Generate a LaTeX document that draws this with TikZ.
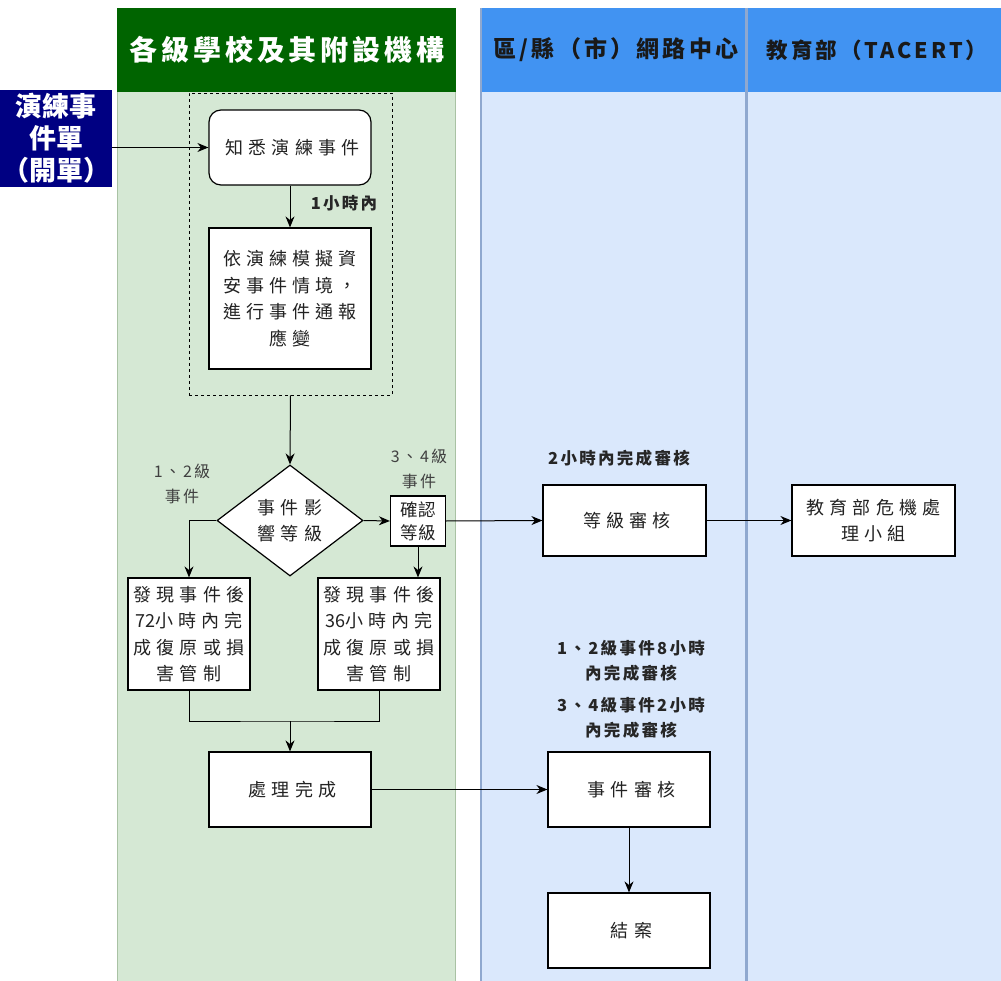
\documentclass[tikz,border=0pt]{standalone}
\usepackage{fontspec}
\usetikzlibrary{shapes.geometric,arrows.meta}
\setmainfont{Liberation Serif}
\newfontfamily\cjk{Noto Sans CJK TC}
\newfontfamily\cjksp[LetterSpace=28]{Noto Sans CJK TC}
\newfontfamily\cjklb[LetterSpace=14]{Noto Sans CJK TC}
\newfontfamily\cjkhd[LetterSpace=14]{Noto Sans CJK TC}
\definecolor{greenhead}{RGB}{0,100,0}
\definecolor{greenbody}{HTML}{D5E8D4}
\definecolor{greenline}{HTML}{A9C2A4}
\definecolor{bluehead}{HTML}{4193F2}
\definecolor{bluebody}{HTML}{DAE8FC}
\definecolor{bluesep}{HTML}{8FA8CF}
\definecolor{navy}{RGB}{0,0,130}
\definecolor{txt}{HTML}{222222}
\tikzset{
  box/.style={draw=black, line width=1.2pt, fill=white, align=center, inner sep=0pt,
    font=\cjksp\fontsize{18}{26.5}\selectfont, text=txt},
  arr/.style={-{Stealth[length=11pt,width=9pt]}, line width=1pt},
  ln/.style={line width=1pt},
  lbl/.style={align=center, font=\cjklb\bfseries\fontsize{16.5}{27}\selectfont, text=black!85},
  glbl/.style={align=center, font=\cjklb\fontsize{16}{25}\selectfont, text=black!75},
  headtxt/.style={font=\cjkhd\bfseries\fontsize{21.5}{26}\selectfont, text=black!90}
}
\begin{document}
\begin{tikzpicture}[x=1pt,y=-1pt]
\useasboundingbox (0,0) rectangle (1001,981);
% lanes
\fill[greenbody] (117,92) rectangle (456,981);
\draw[greenline, line width=1pt] (117.5,92) -- (117.5,981) (455.5,92) -- (455.5,981);
\fill[greenhead] (117,8) rectangle (456,92);
\fill[bluebody] (480,92) rectangle (1001,981);
\fill[bluehead] (480,8) rectangle (1001,92);
\draw[bluesep, line width=1.5pt] (481,8) -- (481,981);
\draw[bluesep, line width=3pt] (746,8) -- (746,981);
\node[font=\cjkhd\bfseries\fontsize{28}{30}\selectfont, text=white] (h1) at (287,50) {各級學校及其附設機構};
\node[headtxt, font=\cjkhd\bfseries\fontsize{23}{26}\selectfont] (h2) at (616,50) {區/縣（市）網路中心};
\node[headtxt] (h3) at (877,50) {教育部（TACERT）};

% ticket
\node[fill=navy, minimum width=112pt, minimum height=97pt, inner sep=0pt, align=center,
  text=white, font=\cjk\bfseries\fontsize{27}{32}\selectfont] (ticket) at (56,138.5) {演練事\\件單\\（開單）};

% group dashed box
\node[draw=black, dashed, line width=0.9pt, minimum width=203pt, minimum height=302pt, inner sep=0pt] (grp) at (290.5,244) {};

\node[box, rounded corners=12pt, minimum width=162pt, minimum height=75pt] (know) at (290,147.5) {知悉演練事件\hspace{-5pt}};
\node[box, minimum width=162pt, minimum height=141pt] (sim) at (290,298.5) {依演練模擬資\hspace{-5pt}\\安事件情境，\hspace{-5pt}\\進行事件通報\hspace{-5pt}\\應變\hspace{-5pt}};

\node[box, shape=diamond, aspect=1.315, minimum width=146pt, minimum height=111pt] (dia) at (290,520.5) {事件影\hspace{-5pt}\\響等級\hspace{-5pt}};
\node[box, minimum width=55pt, minimum height=50pt, font=\cjk\fontsize{17.5}{23}\selectfont] (conf) at (418,521) {確認\\等級};
\node[glbl] (l12) at (182,484) {1、2級\\事件};
\node[glbl] (l34) at (419,469) {3、4級\\事件};

\node[box, minimum width=122pt, minimum height=112pt] (b72) at (189,634) {發現事件後\hspace{-5pt}\\{\cjk 72}小時內完\hspace{-5pt}\\成復原或損\hspace{-5pt}\\害管制\hspace{-5pt}};
\node[box, minimum width=122pt, minimum height=112pt] (b36) at (379,634) {發現事件後\hspace{-5pt}\\{\cjk 36}小時內完\hspace{-5pt}\\成復原或損\hspace{-5pt}\\害管制\hspace{-5pt}};
\coordinate (m) at (290,721);

\node[box, minimum width=162pt, minimum height=75pt] (done) at (290,789.5) {處理完成\hspace{-5pt}};

\node[box, minimum width=163pt, minimum height=71pt] (lvl) at (624.5,520.5) {等級審核\hspace{-5pt}};
\node[box, minimum width=163pt, minimum height=71pt] (moe) at (873.5,520.5) {教育部危機處\hspace{-5pt}\\理小組\hspace{-5pt}};
\node[box, minimum width=162pt, minimum height=75pt] (rev) at (629,789.5) {事件審核\hspace{-5pt}};
\node[box, minimum width=162pt, minimum height=75pt] (close) at (629,930.5) {結案\hspace{-5pt}};

\node[lbl] (t1h) at (344,203) {1小時內};
\node[lbl] (t2h) at (619,458) {2小時內完成審核};
\node[lbl, font=\cjklb\bfseries\fontsize{16.5}{25}\selectfont] (t8h) at (631,661) {1、2級事件8小時\\內完成審核};
\node[lbl, font=\cjklb\bfseries\fontsize{16.5}{25}\selectfont] (t2h34) at (631,718) {3、4級事件2小時\\內完成審核};

% connectors
\draw[arr] (ticket.east |- know.west) -- (know.west);
\draw[arr] (know.south) -- (sim.north);
\draw[arr] (grp.south) -- (dia.north);
\draw[arr] (dia.west) -| (b72.north);
\draw[arr] (dia.east) -- (conf.west);
\draw[arr] (conf.south) -- (conf.south |- b36.north);
\draw[ln] (b72.south) |- (m) -| (b36.south);
\draw[arr] (m) -- (done.north);
\draw[arr] (conf.east) -- (lvl.west);
\draw[arr] (lvl.east) -- (moe.west);
\draw[arr] (done.east) -- (rev.west);
\draw[arr] (rev.south) -- (close.north);
\end{tikzpicture}
\end{document}
